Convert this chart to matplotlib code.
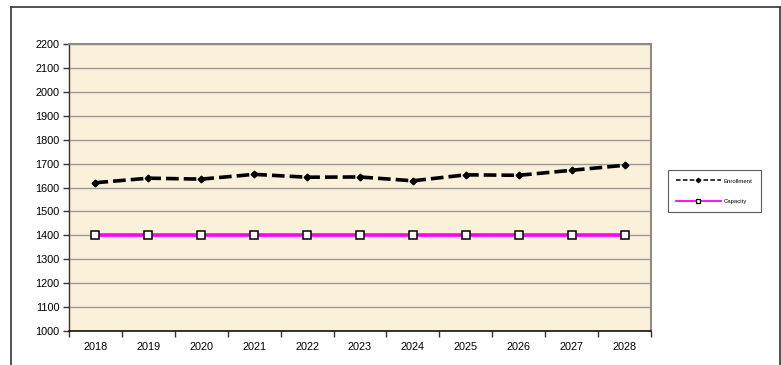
import matplotlib
matplotlib.use("Agg")
import matplotlib.pyplot as plt
from matplotlib.lines import Line2D

plt.rcParams['font.family'] = ['Liberation Sans', 'DejaVu Sans']

years = ["2018", "2019", "2020", "2021", "2022", "2023", "2024", "2025", "2026", "2027", "2028"]
enrollment = [1620, 1639, 1635, 1655, 1643, 1644, 1628, 1653, 1651, 1672, 1693]
capacity = [1400, 1400, 1400, 1400, 1400, 1400, 1400, 1400, 1400, 1400, 1400]

W, H = 781, 365
fig = plt.figure(figsize=(W / 100, H / 100), dpi=100)
fig.patch.set_facecolor("white")

# outer chart border (bottom edge runs past the canvas)
x0, x1, y0 = 10.5 / W, 779.5 / W, 1 - 7 / H
for xs, ys in [([x0, x0], [0, y0]), ([x0, x1], [y0, y0]), ([x1, x1], [y0, 0])]:
    fig.add_artist(Line2D(xs, ys, transform=fig.transFigure, color="#333333", lw=1.2))

left, right, top, bottom = 69, 651, 44, 331
ax = fig.add_axes([left / W, 1 - bottom / H, (right - left) / W, (bottom - top) / H])
ax.set_facecolor("#FBF0D9")

x = list(range(len(years)))
ax.plot(x, enrollment, color="black", lw=2.6, ls=(0, (3.5, 1.4)), marker="D",
        ms=3.4, mfc="black", mec="black", zorder=3)
ax.plot(x, capacity, color="#FF00FF", lw=2.6, marker="s", ms=5.5,
        mfc="white", mec="black", mew=1.1, zorder=3)

ax.set_xlim(-0.5, len(years) - 0.5)
ax.set_ylim(1000, 2200)
ax.set_yticks(range(1000, 2201, 100))
ax.tick_params(axis="y", labelsize=7.8, length=4, width=1, color="#333333", pad=3)
ax.set_xticks(x)
ax.set_xticklabels(years)
ax.tick_params(axis="x", which="major", length=0, labelsize=7.8, pad=8)
ax.set_xticks([i - 0.5 for i in range(len(years) + 1)], minor=True)
ax.tick_params(axis="x", which="minor", length=4, width=1, color="#333333", direction="out")

ax.grid(axis="y", color="#9A9A9A", lw=1)
ax.set_axisbelow(True)
for s in ["top", "right"]:
    ax.spines[s].set_color("#8C8C8C")
    ax.spines[s].set_linewidth(1.5)
ax.spines["left"].set_color("#333333")
ax.spines["bottom"].set_color("#111111")
ax.spines["left"].set_linewidth(1)
ax.spines["bottom"].set_linewidth(1.2)

handles = [
    Line2D([], [], color="black", lw=1.1, ls=(0, (3, 1.5)), marker="D", ms=2.2,
           mfc="black", mec="black"),
    Line2D([], [], color="#FF00FF", lw=1.3, marker="s", ms=3.2,
           mfc="white", mec="black", mew=0.9),
]
leg = fig.legend(handles, ["Enrollment", "Capacity"], loc="upper left",
                 bbox_to_anchor=(668 / W, 1 - 170 / H), prop={"size": 4.3},
                 frameon=True, fancybox=False, handlelength=7.4, borderpad=1.4,
                 labelspacing=2.5, handletextpad=0.5, borderaxespad=0)
leg.get_frame().set_edgecolor("#333333")
leg.get_frame().set_linewidth(0.8)

fig.savefig("out.png", dpi=100)
